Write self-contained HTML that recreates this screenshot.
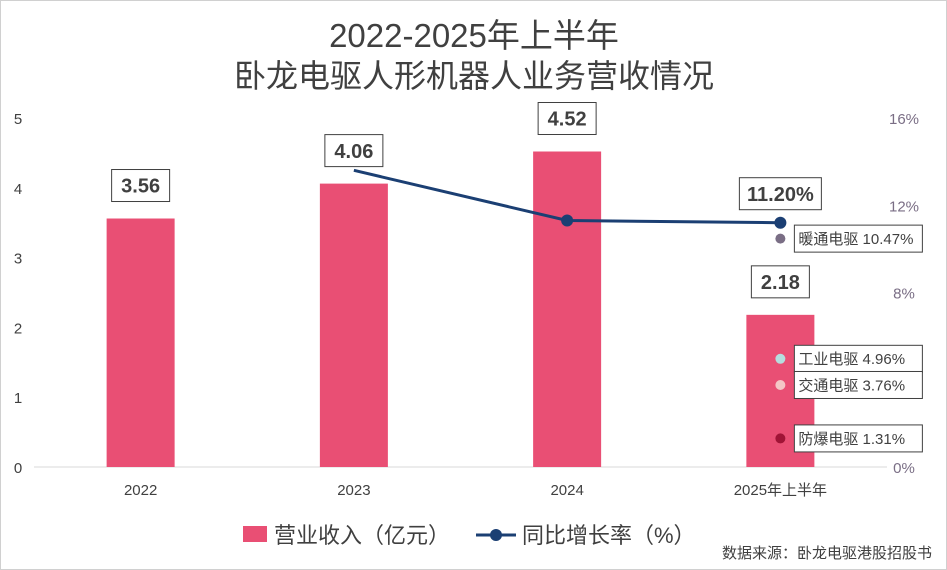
<!DOCTYPE html>
<html><head><meta charset="utf-8"><style>
body{margin:0;background:#fff;font-family:"Liberation Sans","Noto Sans CJK SC",sans-serif}
#wrap{position:relative;width:945px;height:568px;border:1px solid #d0d0d0}
</style></head><body>
<div id="wrap">
<svg id="c" width="947" height="570" style="position:absolute;left:-1px;top:-1px"></svg>
</div>
<script>
const categories=["2022","2023","2024","2025年上半年"];
const revenue=[3.56,4.06,4.52,2.18];
const growth=[null,13.6,11.3,11.2];
const growthLabels=[null,null,null,"11.20%"];
const subNames=["暖通电驱","工业电驱","交通电驱","防爆电驱"];
const subValues=[10.47,4.96,3.76,1.31];
const subColors=["#7a6e85","#b5dede","#f4c6c6","#a01436"];
const leftTicks=[0,1,2,3,4,5];
const rightTicks=[0,4,8,12,16];
const NS="http://www.w3.org/2000/svg";
const svg=document.getElementById('c');
const X0=34,X1=887,Y0=467,Y1=118;
const band=(X1-X0)/categories.length;
const xc=i=>X0+band*(i+0.5);
const yl=v=>Y0-(v/5)*(Y0-Y1);
const yr=v=>Y0-(v/16)*(Y0-Y1);
function el(t,a,txt){const e=document.createElementNS(NS,t);for(const k in a)e.setAttribute(k,a[k]);if(txt!=null)e.textContent=txt;svg.appendChild(e);return e;}
let t=el('text',{x:474,y:47,'text-anchor':'middle','font-size':33,fill:'#404040'},'2022-2025年上半年');

t=el('text',{x:474,y:87,'text-anchor':'middle','font-size':32,fill:'#404040'},'卧龙电驱人形机器人业务营收情况');

leftTicks.forEach(v=>{const e=el('text',{x:18,y:yl(v)+6,'text-anchor':'middle','font-size':15,fill:'#404040'},String(v));
});
rightTicks.forEach(v=>{const e=el('text',{x:904,y:yr(v)+6,'text-anchor':'middle','font-size':15,fill:'#7a6e85'},v+'%');
});
let ax=el('line',{x1:X0,x2:X1,y1:Y0,y2:Y0,stroke:'#d9d9d9','stroke-width':1});

function box(cx,cy,txt,w,name,bold,fs,anchor){
 const g=document.createElementNS(NS,'g');svg.appendChild(g);
 
 const h=fs+12;const x=anchor==='start'?cx:cx-w/2;
 const r=document.createElementNS(NS,'rect');r.setAttribute('x',x);r.setAttribute('y',cy-h/2);r.setAttribute('width',w);r.setAttribute('height',h);r.setAttribute('fill','#fff');r.setAttribute('stroke','#404040');g.appendChild(r);
 const tx=document.createElementNS(NS,'text');tx.setAttribute('x',anchor==='start'?x+4:cx);tx.setAttribute('y',cy+fs*0.36);tx.setAttribute('text-anchor',anchor==='start'?'start':'middle');tx.setAttribute('font-size',fs);tx.setAttribute('fill','#404040');if(bold)tx.setAttribute('font-weight','bold');tx.textContent=txt;g.appendChild(tx);
}
revenue.forEach((v,i)=>{
 const b=el('rect',{x:xc(i)-34,y:yl(v),width:68,height:Y0-yl(v),fill:'#e94f74'});
 
 const e=el('text',{x:xc(i),y:Y0+28,'text-anchor':'middle','font-size':15,fill:'#404040'},categories[i]);
 
});
let pts=[];growth.forEach((g,i)=>{if(g!=null)pts.push([xc(i),yr(g)]);});
let ln=el('polyline',{points:pts.map(p=>p.join(',')).join(' '),fill:'none',stroke:'#1b3f73','stroke-width':3});

growth.forEach((g,i)=>{if(g==null)return;if(i===1)return;
 const d=el('circle',{cx:xc(i),cy:yr(g),r:6,fill:'#1b3f73'});
 });
revenue.forEach((v,i)=>box(xc(i),yl(v)-33,v.toFixed(2),58,'bar-value-label',true,20,'middle'));
growth.forEach((g,i)=>{if(growthLabels[i])box(xc(i),yr(g)-29,growthLabels[i],82,'growth-value-label',true,20,'middle');});
subValues.forEach((v,i)=>{
 const d=el('circle',{cx:xc(3),cy:yr(v),r:5,fill:subColors[i]});
 
 box(xc(3)+14,yr(v),subNames[i]+' '+v.toFixed(2)+'%',128,'segment-label',false,15,'start');
});
let lg=el('rect',{x:243,y:526,width:24,height:16,fill:'#e94f74'});
t=el('text',{x:274,y:543,'font-size':22,fill:'#404040'},'营业收入（亿元）');
lg=el('line',{x1:476,x2:516,y1:535,y2:535,stroke:'#1b3f73','stroke-width':3});
lg=el('circle',{cx:496,cy:535,r:6,fill:'#1b3f73'});
t=el('text',{x:522,y:543,'font-size':22,fill:'#404040'},'同比增长率（%）');
t=el('text',{x:932,y:558,'text-anchor':'end','font-size':15,fill:'#404040'},'数据来源：卧龙电驱港股招股书');
</script>
</body></html>
